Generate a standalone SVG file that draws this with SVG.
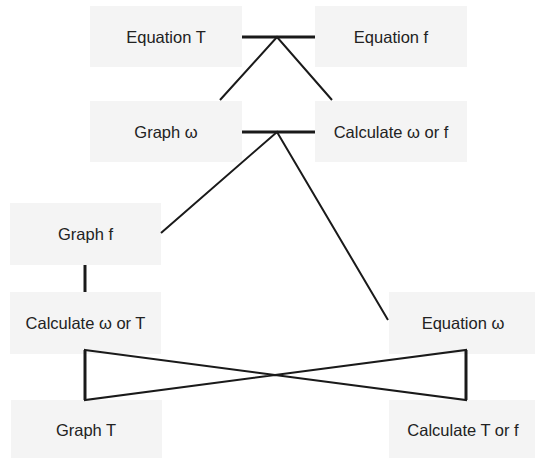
<svg xmlns="http://www.w3.org/2000/svg" width="535" height="458" viewBox="0 0 535 458">
<style>
.box{fill:#f4f4f4}
.t{font-family:"Liberation Sans",Arial,sans-serif;font-size:16.5px;fill:#222;text-anchor:middle;dominant-baseline:central}
.c{stroke:#1a1a1a;stroke-width:2;fill:none}
.b{stroke:#1a1a1a;stroke-width:3;fill:none}
</style>
<rect width="535" height="458" fill="#fff"/>
<g id="eqT"><rect class="box" x="90" y="6" width="152" height="61"/><text class="t" x="166" y="37">Equation T</text></g>
<g id="eqf"><rect class="box" x="315" y="6" width="152" height="61"/><text class="t" x="391" y="37">Equation f</text></g>
<g id="graphw"><rect class="box" x="90" y="101" width="152" height="61"/><text class="t" x="166" y="132">Graph ω</text></g>
<g id="calcwf"><rect class="box" x="315" y="101" width="152" height="61"/><text class="t" x="391" y="132">Calculate ω or f</text></g>
<g id="graphf"><rect class="box" x="10" y="203" width="151" height="62"/><text class="t" x="85.5" y="234">Graph f</text></g>
<g id="calcwT"><rect class="box" x="10" y="292" width="151" height="62"/><text class="t" x="85.5" y="323">Calculate ω or T</text></g>
<g id="eqw"><rect class="box" x="389" y="292" width="151" height="62"/><text class="t" x="463" y="323">Equation ω</text></g>
<g id="graphT"><rect class="box" x="11" y="400" width="151" height="60"/><text class="t" x="86" y="430">Graph T</text></g>
<g id="calcTf"><rect class="box" x="389" y="400" width="151" height="60"/><text class="t" x="463" y="430">Calculate T or f</text></g>
<g id="connectors">
<line class="b" x1="242" y1="37" x2="315" y2="37"/>
<polyline class="c" points="220,100 277,37 332,100"/>
<line class="b" x1="242" y1="132" x2="315" y2="132"/>
<polyline class="c" points="161,233 277,132 388,320"/>
<line class="b" x1="85" y1="265" x2="85" y2="292"/>
<polygon class="c" points="85,350 466,400 466,350 85,400"/>
<line class="b" x1="85" y1="350" x2="85" y2="400"/>
<line class="b" x1="466" y1="350" x2="466" y2="400"/>
</g>
</svg>
